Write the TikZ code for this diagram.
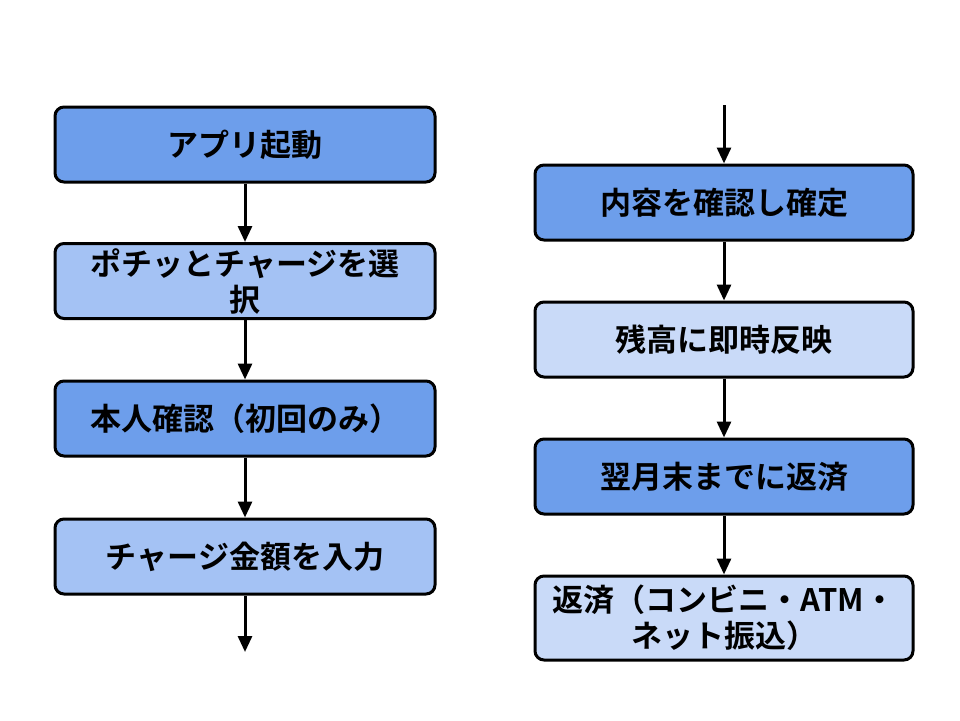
\documentclass[tikz,border=0pt]{standalone}
\usepackage{fontspec}
\setmainfont{Noto Sans CJK JP}[BoldFont={* Bold}]
\usetikzlibrary{arrows.meta}
\definecolor{cA}{HTML}{6D9EEB}
\definecolor{cB}{HTML}{A4C2F4}
\definecolor{cC}{HTML}{C9DAF8}
\begin{document}
\begin{tikzpicture}[x=1pt,y=-1pt,
  box/.style={draw=black,line width=3pt,rounded corners=9pt,minimum height=75pt,
    align=center,inner sep=2pt,font=\fontsize{31}{36}\selectfont\bfseries},
  L/.style={box,minimum width=380pt},
  R/.style={box,minimum width=378pt},
  arr/.style={line width=3pt,-{Triangle[length=16pt,width=14pt]}}]
\useasboundingbox (0,0) rectangle (960,720);
\node[L,fill=cA] (a1) at (245,144.5) {アプリ起動};
\node[L,fill=cB] (a2) at (245,281) {ポチッとチャージを選\\択};
\node[L,fill=cA] (a3) at (245,418.5) {本人確認（初回のみ）};
\node[L,fill=cB] (a4) at (245,556.5) {チャージ金額を入力};
\coordinate (aend) at (245,652);
\node[R,fill=cA] (b1) at (724,202.5) {内容を確認し確定};
\node[R,fill=cC] (b2) at (724,339.5) {残高に即時反映};
\node[R,fill=cA] (b3) at (724,476.5) {翌月末までに返済};
\node[R,fill=cC,minimum height=84pt] (b4) at (724,618) {返済（コンビニ・ATM・\\ネット振込）};
\coordinate (bstart) at (724,105);
\draw[arr] (a1) -- (a2);
\draw[arr] (a2) -- (a3);
\draw[arr] (a3) -- (a4);
\draw[arr] (a4) -- (aend);
\draw[arr] (bstart) -- (b1);
\draw[arr] (b1) -- (b2);
\draw[arr] (b2) -- (b3);
\draw[arr] (b3) -- (b4);
\end{tikzpicture}
\end{document}
